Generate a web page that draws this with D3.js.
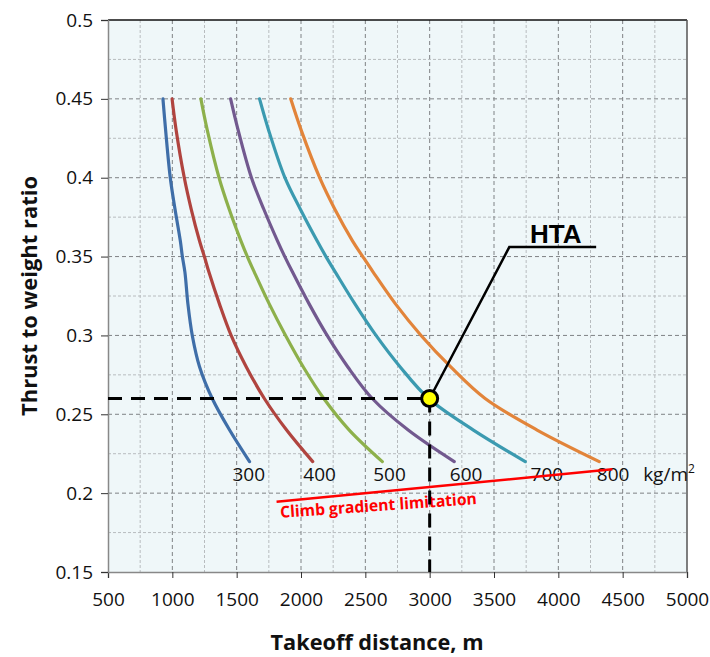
<!DOCTYPE html>
<html>
<head>
<meta charset="utf-8">
<script src="https://d3js.org/d3.v7.min.js"></script>
<style>
  body { margin: 0; background: #fff; }
  text { font-family: "Open Sans", sans-serif; }
</style>
</head>
<body>
<div id="chart"></div>
<script>
// thrust-to-weight values shared by every wing-loading curve
const thrustWeight = [0.45, 0.43, 0.40, 0.38, 0.36, 0.35, 0.34, 0.32, 0.30, 0.28, 0.26, 0.24, 0.22];

// wing loading, kg/m2
const wingLoading = [300, 400, 500, 600, 700, 800];

// takeoff distance (m) for each wing loading, one per thrustWeight entry
const dist300 = [927, 948, 984, 1021, 1062, 1078, 1098, 1121, 1155, 1212, 1310, 1445, 1600];
const dist400 = [998, 1030, 1093, 1147, 1211, 1249, 1285, 1366, 1457, 1575, 1715, 1888, 2091];
const dist500 = [1222, 1272, 1363, 1442, 1533, 1583, 1638, 1753, 1880, 2018, 2177, 2375, 2632];
const dist600 = [1453, 1512, 1615, 1711, 1817, 1874, 1935, 2063, 2203, 2364, 2554, 2833, 3191];
const dist700 = [1678, 1749, 1875, 1995, 2125, 2194, 2268, 2419, 2583, 2771, 2992, 3340, 3743];
const dist800 = [1920, 2002, 2145, 2263, 2400, 2480, 2562, 2734, 2933, 3164, 3431, 3835, 4318];

// where the curve labels sit (takeoff distance)
const labelX = [1594, 2145, 2688, 3283, 3911, 4426];
const labelY = 0.2077;

// climb gradient limitation line
const climbX = [1810, 4420];
const climbY = [0.1945, 0.2151];

// design point
const htaX = 3000;
const htaY = 0.26;
const htaLeader = [[3000, 0.26], [3619, 0.356], [4294, 0.356]];

const xTicks = [500, 1000, 1500, 2000, 2500, 3000, 3500, 4000, 4500, 5000];
const yTicks = [0.15, 0.2, 0.25, 0.3, 0.35, 0.4, 0.45, 0.5];

const colors = ["#3f6ea8", "#b0443f", "#8db04b", "#72598f", "#3b9ab0", "#e2843a"];

let width  = 710;
let height = 657;
let margin = {top: 20, right: 23, bottom: 85, left: 108};

let svg = d3.select("#chart")
    .append("svg")
    .attr("width", width)
    .attr("height", height);

let w = width - margin.left - margin.right;
let h = height - margin.top - margin.bottom;

let g = svg.append("g")
    .attr("transform", "translate(" + margin.left + "," + margin.top + ")");

let x = d3.scaleLinear().domain([500, 5000]).range([0, w]);
let y = d3.scaleLinear().domain([0.15, 0.5]).range([h, 0]);

////////////
/// Grid ///
////////////

g.append("rect")
    .attr("width", w)
    .attr("height", h)
    .attr("fill", "#eff7f9");

let minorX = d3.range(750, 5000, 500);
let minorY = d3.range(0.175, 0.5, 0.05);

g.selectAll(".minor-x")
    .data(minorX)
    .enter().append("line")
    .attr("x1", d => x(d)).attr("x2", d => x(d))
    .attr("y1", 0).attr("y2", h)
    .attr("stroke", "#b8bcbf").attr("stroke-width", 1)
    .attr("stroke-dasharray", "3,2");

g.selectAll(".minor-y")
    .data(minorY)
    .enter().append("line")
    .attr("x1", 0).attr("x2", w)
    .attr("y1", d => y(d)).attr("y2", d => y(d))
    .attr("stroke", "#b8bcbf").attr("stroke-width", 1)
    .attr("stroke-dasharray", "3,2");

g.selectAll(".major-x")
    .data(xTicks.slice(1, -1))
    .enter().append("line")
    .attr("x1", d => x(d)).attr("x2", d => x(d))
    .attr("y1", 0).attr("y2", h)
    .attr("stroke", "#7f8285").attr("stroke-width", 1)
    .attr("stroke-dasharray", "4,3");

g.selectAll(".major-y")
    .data(yTicks.slice(1, -1))
    .enter().append("line")
    .attr("x1", 0).attr("x2", w)
    .attr("y1", d => y(d)).attr("y2", d => y(d))
    .attr("stroke", "#7f8285").attr("stroke-width", 1)
    .attr("stroke-dasharray", "4,3");

// frame: black top, dark right
g.append("line").attr("x1", 0).attr("x2", w).attr("y1", 0).attr("y2", 0)
    .attr("stroke", "#111").attr("stroke-width", 1.5);
g.append("line").attr("x1", w).attr("x2", w).attr("y1", 0).attr("y2", h)
    .attr("stroke", "#555").attr("stroke-width", 1.5);

//////////////
/// Axes   ///
//////////////

let xAxis = g.append("g")
    .attr("transform", "translate(0," + h + ")")
    .call(d3.axisBottom(x).tickValues(xTicks).tickSize(6).tickPadding(15).tickFormat(d3.format("d")));

let yAxis = g.append("g")
    .call(d3.axisLeft(y).tickValues(yTicks).tickSize(7).tickPadding(8).tickFormat(d => String(+d.toFixed(2))));

[xAxis, yAxis].forEach(a => {
    a.select(".domain").attr("stroke", "#888").attr("stroke-width", 1.5);
    a.selectAll(".tick line").attr("stroke", "#333");
    a.selectAll("text")
        .attr("fill", "#111")
        .style("font-family", "'Open Sans', sans-serif")
        .style("font-size", "19px");
});

//////////////
/// Curves ///
//////////////

let series = [dist300, dist400, dist500, dist600, dist700, dist800];

let line = d3.line()
    .x(d => x(d[0]))
    .y(d => y(d[1]))
    .curve(d3.curveCatmullRom.alpha(0.5));

series.forEach((s, i) => {
    g.append("path")
        .datum(s.map((d, j) => [d, thrustWeight[j]]))
        .attr("fill", "none")
        .attr("stroke", colors[i])
        .attr("stroke-width", 3.2)
        .attr("stroke-linecap", "round")
        .attr("d", line);
});

// curve labels
wingLoading.forEach((v, i) => {
    g.append("text")
        .attr("x", x(labelX[i]))
        .attr("y", y(labelY))
        .attr("text-anchor", "middle")
        .style("font-size", "19px")
        .attr("fill", "#111")
        .text(v);
});

let unit = g.append("text")
    .attr("x", x(labelX[5]) + 30)
    .attr("y", y(labelY))
    .style("font-size", "19px")
    .attr("fill", "#111");
unit.append("tspan").text("kg/m");
unit.append("tspan").attr("dy", -8).style("font-size", "12px").text("2");

///////////////////////
/// Climb gradient  ///
///////////////////////

g.append("line")
    .attr("x1", x(climbX[0])).attr("y1", y(climbY[0]))
    .attr("x2", x(climbX[1])).attr("y2", y(climbY[1]))
    .attr("stroke", "#ff0000").attr("stroke-width", 2.5);

let cx0 = x(climbX[0]) + 4;
let cy0 = y(climbY[0]) + 16;
g.append("text")
    .attr("transform", "translate(" + cx0 + "," + cy0 + ") rotate(-4.0)")
    .style("font-size", "16px")
    .style("font-weight", "bold")
    .attr("fill", "#ff0000")
    .attr("textLength", 197)
    .attr("lengthAdjust", "spacingAndGlyphs")
    .text("Climb gradient limitation");

///////////
/// HTA ///
///////////

g.append("line")
    .attr("x1", 0).attr("x2", x(htaX))
    .attr("y1", y(htaY)).attr("y2", y(htaY))
    .attr("stroke", "#000").attr("stroke-width", 3)
    .attr("stroke-dasharray", "14,9");

g.append("line")
    .attr("x1", x(htaX)).attr("x2", x(htaX))
    .attr("y1", y(htaY)).attr("y2", h)
    .attr("stroke", "#000").attr("stroke-width", 3)
    .attr("stroke-dasharray", "14,9");

g.append("path")
    .datum(htaLeader)
    .attr("fill", "none")
    .attr("stroke", "#000")
    .attr("stroke-width", 2.5)
    .attr("d", d3.line().x(d => x(d[0])).y(d => y(d[1])));

g.append("circle")
    .attr("cx", x(htaX)).attr("cy", y(htaY))
    .attr("r", 8)
    .attr("fill", "#ffff00")
    .attr("stroke", "#000")
    .attr("stroke-width", 3);

g.append("text")
    .attr("x", (x(htaLeader[1][0]) + x(htaLeader[2][0])) / 2 + 3)
    .attr("y", y(htaLeader[1][1]) - 4)
    .attr("text-anchor", "middle")
    .style("font-family", "'Liberation Sans', Arial, sans-serif")
    .style("font-size", "26px")
    .style("font-weight", "bold")
    .attr("fill", "#000")
    .text("HTA");

//////////////
/// Labels ///
//////////////

svg.append("text")
    .attr("x", 377)
    .attr("y", 650)
    .attr("text-anchor", "middle")
    .style("font-size", "21px")
    .style("font-weight", "bold")
    .attr("fill", "#111")
    .attr("textLength", 213)
    .attr("lengthAdjust", "spacingAndGlyphs")
    .text("Takeoff distance, m");

svg.append("text")
    .attr("transform", "translate(37," + (margin.top + h / 2) + ") rotate(-90)")
    .attr("text-anchor", "middle")
    .style("font-size", "21px")
    .style("font-weight", "bold")
    .attr("fill", "#111")
    .attr("textLength", 240)
    .attr("lengthAdjust", "spacingAndGlyphs")
    .text("Thrust to weight ratio");
</script>
</body>
</html>
